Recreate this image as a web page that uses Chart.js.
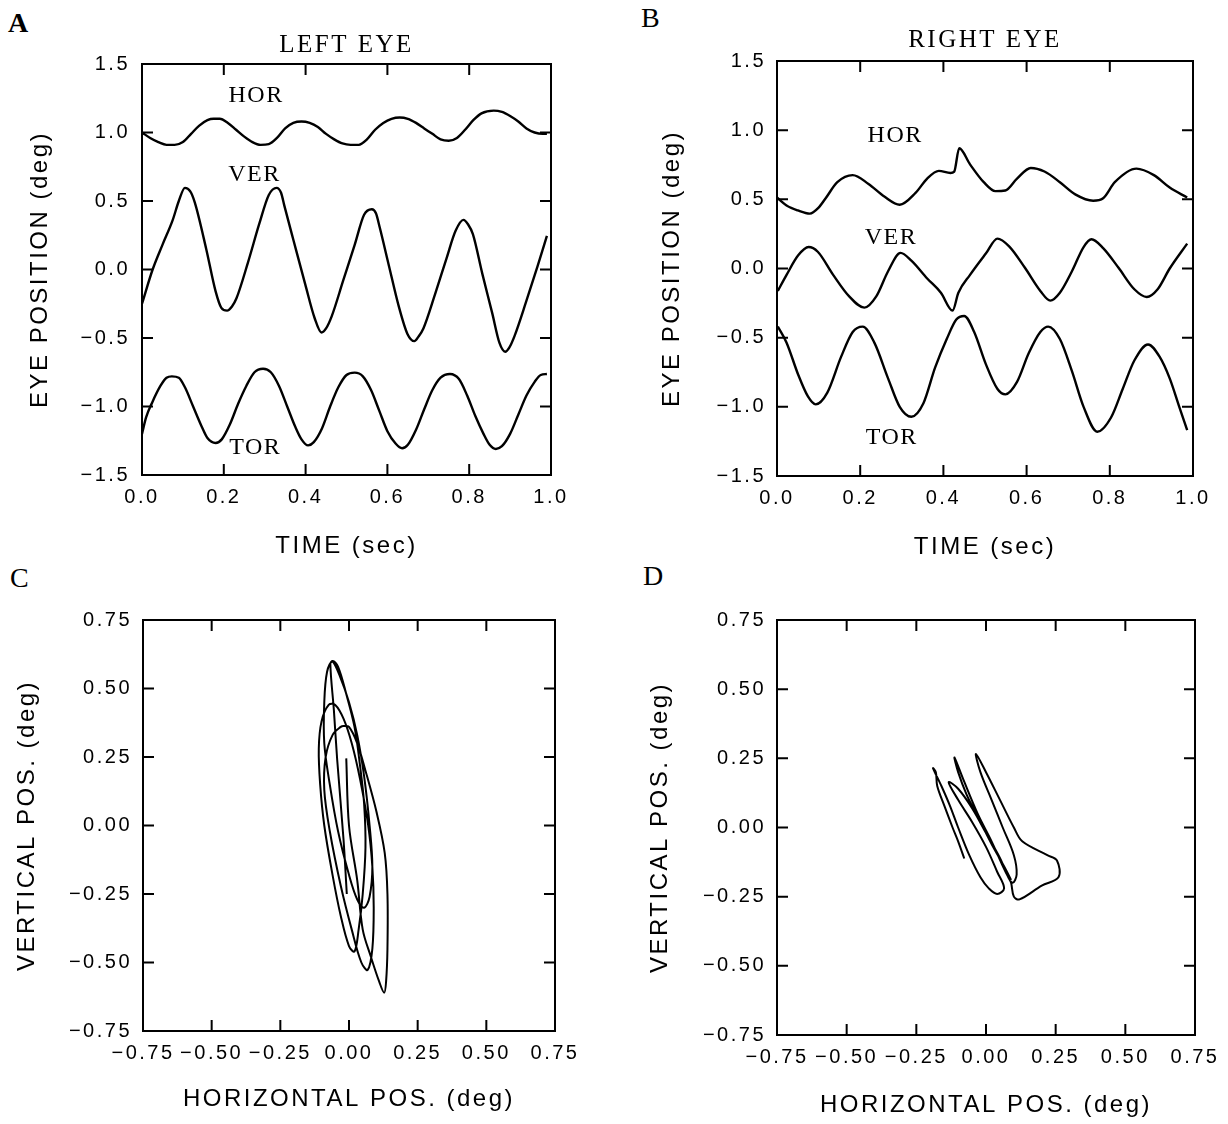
<!DOCTYPE html>
<html>
<head>
<meta charset="UTF-8">
<title>Eye position</title>
<script src="https://cdn.jsdelivr.net/npm/chart.js"></script>
<style>
  body { margin: 0; background: #fff; width: 1228px; height: 1124px; position: relative; overflow: hidden; }
  canvas { position: absolute; }
  .tag { position: absolute; font-family: "Liberation Serif", serif; font-size: 28px; line-height: 1; color: #000; }
</style>
</head>
<body>
<div class="tag" style="left:8px;top:9px;font-weight:bold">A</div>
<div class="tag" style="left:641px;top:4px">B</div>
<div class="tag" style="left:10px;top:564px">C</div>
<div class="tag" style="left:643px;top:562px">D</div>

<canvas id="chartA" width="614" height="562" style="left:0;top:0"></canvas>
<canvas id="chartB" width="614" height="562" style="left:614px;top:0"></canvas>
<canvas id="chartC" width="614" height="562" style="left:0;top:562px"></canvas>
<canvas id="chartD" width="614" height="562" style="left:614px;top:562px"></canvas>

<script>
// ---- tick values ----
const timeTicks = [0, 0.2, 0.4, 0.6, 0.8, 1.0];
const posTicks = [-1.5, -1.0, -0.5, 0.0, 0.5, 1.0, 1.5];
const xyTicks = [-0.75, -0.5, -0.25, 0, 0.25, 0.5, 0.75];

// ---- A: left eye traces (time in sec, position in deg) ----
const aHorT = [0,0.02,0.04,0.06,0.08,0.10,0.12,0.14,0.16,0.175,0.19,0.21,0.23,0.25,0.27,0.29,0.31,0.33,0.35,0.37,0.39,0.41,0.43,0.45,0.47,0.49,0.51,0.53,0.55,0.57,0.59,0.61,0.63,0.65,0.67,0.69,0.71,0.73,0.75,0.77,0.79,0.81,0.83,0.86,0.88,0.90,0.92,0.94,0.96,0.98,0.99];
const aHorV = [1.0,0.96,0.93,0.91,0.91,0.93,0.99,1.05,1.09,1.10,1.1,1.07,1.02,0.97,0.93,0.91,0.915,0.96,1.03,1.07,1.08,1.07,1.04,0.99,0.95,0.92,0.91,0.91,0.95,1.02,1.07,1.1,1.11,1.1,1.07,1.03,0.99,0.95,0.94,0.96,1.02,1.09,1.14,1.16,1.15,1.12,1.08,1.03,1.0,0.99,0.99];
const aVerT = [0,0.026,0.05,0.075,0.09,0.105,0.118,0.129,0.157,0.18,0.194,0.208,0.22,0.231,0.259,0.287,0.31,0.329,0.34,0.348,0.371,0.399,0.422,0.439,0.45,0.464,0.492,0.52,0.543,0.562,0.572,0.581,0.604,0.627,0.649,0.666,0.676,0.688,0.716,0.744,0.767,0.786,0.797,0.809,0.832,0.856,0.874,0.888,0.898,0.911,0.939,0.967,0.99];
const aVerV = [-0.25,0.0,0.18,0.36,0.5,0.596,0.57,0.49,0.15,-0.16,-0.28,-0.30,-0.27,-0.21,0.05,0.336,0.544,0.596,0.56,0.466,0.206,-0.107,-0.354,-0.46,-0.43,-0.34,-0.08,0.18,0.40,0.44,0.41,0.31,0.024,-0.26,-0.47,-0.523,-0.49,-0.43,-0.185,0.076,0.284,0.362,0.33,0.258,-0.03,-0.315,-0.536,-0.60,-0.57,-0.484,-0.237,0.023,0.245];
const aTorT = [0,0.01,0.025,0.045,0.06,0.073,0.09,0.105,0.125,0.145,0.16,0.18,0.195,0.215,0.235,0.255,0.275,0.296,0.315,0.335,0.355,0.375,0.39,0.406,0.42,0.44,0.46,0.48,0.50,0.52,0.54,0.56,0.58,0.60,0.62,0.636,0.65,0.67,0.69,0.71,0.73,0.753,0.775,0.795,0.815,0.835,0.85,0.865,0.88,0.90,0.92,0.94,0.96,0.975,0.99];
const aTorV = [-1.2,-1.08,-0.97,-0.85,-0.79,-0.78,-0.79,-0.86,-1.0,-1.14,-1.23,-1.266,-1.24,-1.13,-0.98,-0.85,-0.75,-0.724,-0.75,-0.85,-1.0,-1.15,-1.24,-1.284,-1.26,-1.16,-1.0,-0.86,-0.77,-0.753,-0.78,-0.88,-1.03,-1.18,-1.27,-1.305,-1.28,-1.17,-1.02,-0.88,-0.79,-0.763,-0.8,-0.92,-1.07,-1.2,-1.28,-1.31,-1.29,-1.2,-1.06,-0.92,-0.82,-0.77,-0.763];

// ---- B: right eye traces ----
const bHorT = [0,0.023,0.05,0.079,0.1,0.117,0.145,0.182,0.22,0.258,0.295,0.333,0.361,0.389,0.417,0.426,0.438,0.464,0.497,0.525,0.549,0.577,0.61,0.643,0.68,0.718,0.76,0.784,0.812,0.864,0.906,0.944,0.986];
const bHorV = [0.513,0.456,0.42,0.397,0.44,0.508,0.624,0.675,0.611,0.52,0.461,0.546,0.65,0.706,0.69,0.70,0.869,0.753,0.624,0.559,0.564,0.65,0.727,0.701,0.624,0.534,0.49,0.508,0.624,0.722,0.675,0.585,0.513];
const bVerT = [0.002,0.023,0.051,0.076,0.098,0.135,0.173,0.21,0.239,0.267,0.297,0.323,0.361,0.394,0.422,0.436,0.464,0.502,0.53,0.558,0.596,0.633,0.657,0.68,0.709,0.737,0.756,0.784,0.821,0.859,0.889,0.915,0.944,0.986];
const bVerV = [-0.162,-0.046,0.095,0.155,0.121,-0.046,-0.20,-0.283,-0.2,-0.02,0.113,0.057,-0.072,-0.175,-0.304,-0.175,-0.046,0.108,0.216,0.16,0.005,-0.162,-0.232,-0.175,-0.02,0.155,0.211,0.147,0.005,-0.15,-0.206,-0.15,0.0,0.18];
const bTorT = [0.002,0.023,0.051,0.074,0.093,0.121,0.154,0.182,0.206,0.234,0.267,0.295,0.323,0.352,0.38,0.408,0.431,0.45,0.474,0.502,0.53,0.549,0.577,0.605,0.633,0.652,0.68,0.709,0.737,0.77,0.803,0.831,0.859,0.892,0.92,0.944,0.967,0.986];
const bTorV = [-0.42,-0.536,-0.768,-0.923,-0.982,-0.897,-0.639,-0.459,-0.42,-0.536,-0.794,-1.0,-1.072,-0.974,-0.717,-0.51,-0.369,-0.343,-0.459,-0.691,-0.871,-0.91,-0.82,-0.613,-0.459,-0.42,-0.51,-0.742,-1.0,-1.18,-1.077,-0.871,-0.665,-0.549,-0.639,-0.794,-1.0,-1.168];

// ---- C: left eye, horizontal vs vertical (deg) ----
const cHor = [-0.008,-0.02,-0.043,-0.055,-0.068,-0.06,-0.035,0.0,0.03,0.055,0.075,0.085,0.075,0.055,0.03,0.0,-0.04,-0.07,-0.09,-0.09,-0.08,-0.06,-0.04,-0.01,0.02,0.04,0.055,0.06,0.05,0.035,0.02,0.0,-0.03,-0.06,-0.09,-0.105,-0.11,-0.1,-0.074,-0.05,-0.02,0.01,0.04,0.07,0.085,0.09,0.085,0.068,0.045,0.01,-0.03,-0.07,-0.09,-0.085,-0.06,-0.03,-0.02,0.0,0.03,0.06,0.1,0.13,0.14,0.14,0.135,0.128,0.11,0.08,0.05,0.03,0.0,-0.01];
const cVer = [-0.25,-0.05,0.24,0.42,0.59,0.6,0.55,0.45,0.33,0.18,0.0,-0.15,-0.26,-0.30,-0.27,-0.18,-0.02,0.15,0.3,0.45,0.56,0.6,0.58,0.48,0.36,0.22,0.08,-0.08,-0.25,-0.38,-0.46,-0.44,-0.33,-0.18,0.0,0.15,0.28,0.38,0.44,0.44,0.39,0.3,0.17,0.0,-0.15,-0.3,-0.45,-0.527,-0.5,-0.38,-0.22,-0.02,0.13,0.25,0.33,0.36,0.363,0.36,0.3,0.2,0.05,-0.1,-0.25,-0.45,-0.57,-0.61,-0.57,-0.48,-0.38,-0.2,0.0,0.245];

// ---- D: right eye, horizontal vs vertical (deg) ----
const dHor = [-0.078,-0.1,-0.12,-0.15,-0.175,-0.18,-0.19,-0.16,-0.13,-0.1,-0.06,-0.02,0.01,0.04,0.065,0.04,0.0,-0.05,-0.1,-0.134,-0.1,-0.05,0.0,0.05,0.08,0.09,0.1,0.12,0.2,0.26,0.255,0.22,0.13,0.1,0.05,0.0,-0.036,-0.02,0.02,0.06,0.1,0.11,0.095,0.07,0.02,-0.03,-0.08,-0.113,-0.1,-0.07,-0.03,0.02,0.07,0.09];
const dVer = [-0.112,-0.05,0.0,0.08,0.15,0.2,0.214,0.15,0.08,0.0,-0.1,-0.18,-0.22,-0.24,-0.22,-0.16,-0.07,0.02,0.1,0.164,0.14,0.07,-0.02,-0.11,-0.18,-0.2,-0.25,-0.26,-0.21,-0.18,-0.12,-0.1,-0.05,0.0,0.1,0.2,0.266,0.2,0.1,0.0,-0.1,-0.17,-0.2,-0.16,-0.05,0.05,0.17,0.253,0.2,0.12,0.04,-0.06,-0.15,-0.19];

const SANS = '"Liberation Sans", Arial, sans-serif';
const SERIF = '"Liberation Serif", "Times New Roman", serif';
const TICK = 11;

function pts(xs, ys) { return xs.map((x, i) => ({ x: x, y: ys[i] })); }
function minus(v, d) { return (v < 0 ? '\u2212' : '') + Math.abs(v).toFixed(d); }

// box, inward ticks on all four sides, and serif labels
const frame = {
  id: 'frame',
  beforeDraw(chart) { chart.ctx.letterSpacing = '2.5px'; },
  afterDraw(chart, args, opts) {
    const { ctx, chartArea: a, scales: { x, y } } = chart;
    ctx.save();
    ctx.strokeStyle = '#000';
    ctx.lineWidth = 2;
    ctx.beginPath();
    x.ticks.forEach(t => {
      const px = x.getPixelForValue(t.value);
      ctx.moveTo(px, a.bottom); ctx.lineTo(px, a.bottom - TICK);
      ctx.moveTo(px, a.top); ctx.lineTo(px, a.top + TICK);
    });
    y.ticks.forEach(t => {
      const py = y.getPixelForValue(t.value);
      ctx.moveTo(a.left, py); ctx.lineTo(a.left + TICK, py);
      ctx.moveTo(a.right, py); ctx.lineTo(a.right - TICK, py);
    });
    ctx.stroke();
    ctx.strokeRect(a.left, a.top, a.right - a.left, a.bottom - a.top);
    ctx.fillStyle = '#000';
    ctx.textAlign = 'center';
    ctx.textBaseline = 'middle';
    ctx.letterSpacing = '1.5px';
    ctx.font = '24px ' + SERIF;
    (opts.labels || []).forEach(l => {
      ctx.fillText(l.text, x.getPixelForValue(l.x), y.getPixelForValue(l.y));
    });
    if (opts.heading) {
      ctx.letterSpacing = '2.5px';
      ctx.font = '25px ' + SERIF;
      ctx.fillText(opts.heading.text, (a.left + a.right) / 2, a.top - opts.heading.gap);
    }
    ctx.restore();
  }
};

function makeChart(id, datasets, cfg) {
  return new Chart(document.getElementById(id), {
    type: 'line',
    data: { datasets: datasets },
    options: {
      responsive: false,
      animation: false,
      events: [],
      layout: { padding: { top: cfg.top, right: cfg.right, bottom: 0, left: 0 } },
      plugins: {
        legend: { display: false },
        tooltip: { enabled: false },
        frame: { labels: cfg.labels, heading: cfg.heading }
      },
      scales: {
        x: {
          type: 'linear',
          min: cfg.xTicks[0], max: cfg.xTicks[cfg.xTicks.length - 1],
          afterBuildTicks: s => { s.ticks = cfg.xTicks.map(v => ({ value: v })); },
          afterFit: s => { s.height = cfg.xHeight; },
          grid: { display: false, drawTicks: false },
          border: { display: false },
          ticks: {
            autoSkip: false, maxRotation: 0, padding: cfg.xPad,
            color: '#000', font: { family: SANS, size: 20 },
            callback: v => minus(v, cfg.digits)
          },
          title: {
            display: true, text: cfg.xTitle, color: '#000',
            font: { family: SANS, size: 24, lineHeight: 1 },
            padding: { top: 0, bottom: cfg.xTitlePad }
          }
        },
        y: {
          type: 'linear',
          min: cfg.yTicks[0], max: cfg.yTicks[cfg.yTicks.length - 1],
          afterBuildTicks: s => { s.ticks = cfg.yTicks.map(v => ({ value: v })); },
          afterFit: s => { s.width = cfg.yWidth; },
          grid: { display: false, drawTicks: false },
          border: { display: false },
          ticks: {
            autoSkip: false, padding: cfg.yPad,
            color: '#000', font: { family: SANS, size: 20 },
            callback: v => minus(v, cfg.digits)
          },
          title: {
            display: true, text: cfg.yTitle, color: '#000',
            font: { family: SANS, size: 24, lineHeight: 1 },
            padding: { top: cfg.yTitlePad, bottom: 0 }
          }
        }
      }
    },
    plugins: [frame]
  });
}

function trace(data, smooth, width) {
  return {
    data: data, borderColor: '#000', borderWidth: width, pointRadius: 0,
    fill: false, tension: smooth ? 0 : 0.35,
    cubicInterpolationMode: smooth ? 'monotone' : 'default'
  };
}

makeChart('chartA', [
  trace(pts(aHorT, aHorV), true, 2.4),
  trace(pts(aVerT, aVerV), true, 2.4),
  trace(pts(aTorT, aTorV), true, 2.4)
], {
  top: 64, right: 63, xHeight: 87, yWidth: 142, xPad: 10, yPad: 12,
  xTitlePad: 4, yTitlePad: 28, digits: 1,
  xTicks: timeTicks, yTicks: posTicks,
  xTitle: 'TIME (sec)', yTitle: 'EYE POSITION (deg)',
  heading: { text: 'LEFT EYE', gap: 19 },
  labels: [
    { text: 'HOR', x: 0.279, y: 1.27 },
    { text: 'VER', x: 0.275, y: 0.69 },
    { text: 'TOR', x: 0.277, y: -1.30 }
  ]
});

makeChart('chartB', [
  trace(pts(bHorT, bHorV), true, 2.4),
  trace(pts(bVerT, bVerV), true, 2.4),
  trace(pts(bTorT, bTorV), true, 2.4)
], {
  top: 61, right: 35, xHeight: 86, yWidth: 163, xPad: 10, yPad: 11,
  xTitlePad: 3, yTitlePad: 46, digits: 1,
  xTicks: timeTicks, yTicks: posTicks,
  xTitle: 'TIME (sec)', yTitle: 'EYE POSITION (deg)',
  heading: { text: 'RIGHT EYE', gap: 21 },
  labels: [
    { text: 'HOR', x: 0.284, y: 0.957 },
    { text: 'VER', x: 0.274, y: 0.225 },
    { text: 'TOR', x: 0.276, y: -1.22 }
  ]
});

makeChart('chartC', [
  trace(pts(cHor, cVer), false, 2)
], {
  top: 58, right: 59, xHeight: 93, yWidth: 143, xPad: 10, yPad: 11,
  xTitlePad: 13, yTitlePad: 15, digits: 2,
  xTicks: xyTicks, yTicks: xyTicks,
  xTitle: 'HORIZONTAL POS. (deg)', yTitle: 'VERTICAL POS. (deg)'
});

makeChart('chartD', [
  trace(pts(dHor, dVer), false, 2)
], {
  top: 58, right: 33, xHeight: 89, yWidth: 163, xPad: 10, yPad: 11,
  xTitlePad: 7, yTitlePad: 34, digits: 2,
  xTicks: xyTicks, yTicks: xyTicks,
  xTitle: 'HORIZONTAL POS. (deg)', yTitle: 'VERTICAL POS. (deg)'
});
</script>
</body>
</html>
